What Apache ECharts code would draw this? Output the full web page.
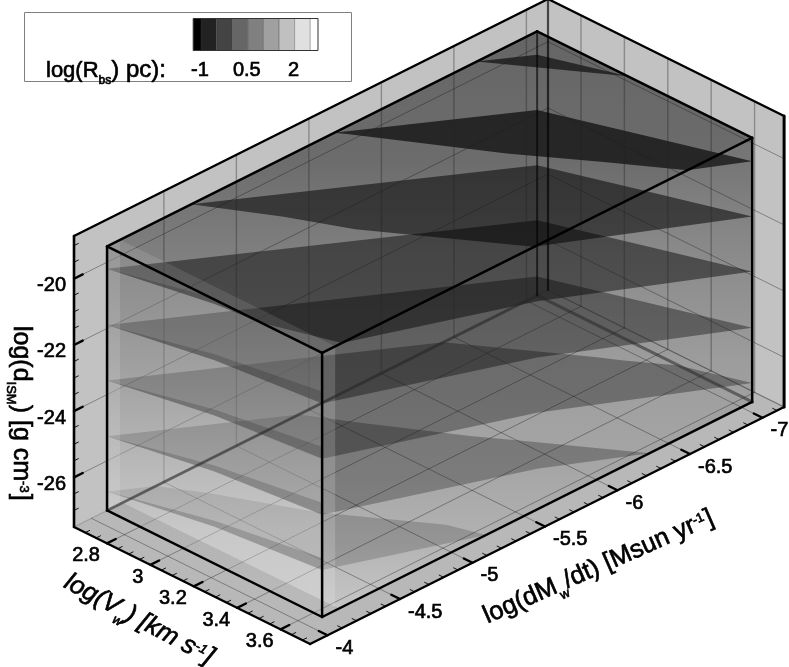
<!DOCTYPE html>
<html><head><meta charset="utf-8">
<style>html,body{margin:0;padding:0;background:#fff}#c{width:789px;height:667px}</style>
<script src="https://cdn.jsdelivr.net/npm/echarts@6/dist/echarts.min.js"></script>
</head><body><div id="c"></div>
<script>
// ---- axis ticks
const vwTicks=[2.8,3,3.2,3.4,3.6];
const vwLabels=['2.8','3','3.2','3.4','3.6'];
const mdotTicks=[-4,-4.5,-5,-5.5,-6,-6.5,-7];
const mdotLabels=['-4','-4.5','-5','-5.5','-6','-6.5','-7'];
const rhoTicks=[-20,-22,-24,-26];
const rhoLabels=['-20','-22','-24','-26'];
// ---- colour legend
const legendLevels=[-1.25,-1,-0.5,0,0.5,1,1.5,2,2.5,2.75];
const legendColors=['#000000','#222222','#444444','#666666','#808080','#a0a0a0','#c0c0c0','#e0e0e0','#ffffff'];
const legendTickValues=[-1,0.5,2];
const legendTickLabels=['-1','0.5','2'];
// ---- log(d_ISM) of each iso-surface; rows Vw low/mid/high, columns Mdot high/mid/low
const surface0=[[-15.20,-17.71,-20.23],[-14.65,-16.99,-19.39],[-14.35,-16.21,-18.56]];
const surface1=[[-16.87,-19.38,-21.90],[-16.32,-18.66,-21.06],[-16.02,-17.88,-20.23]];
const surface2=[[-18.54,-21.05,-23.57],[-17.99,-20.33,-22.73],[-17.69,-19.55,-21.90]];
const surface3=[[-20.20,-22.71,-25.23],[-19.65,-21.99,-24.39],[-19.35,-21.21,-23.56]];
const surface4=[[-21.90,-24.41,-26.93],[-21.35,-23.69,-26.09],[-21.05,-22.91,-25.26]];
const surface5=[[-23.57,-26.08,-28.60],[-23.02,-25.36,-27.76],[-22.72,-24.58,-26.93]];
const surface6=[[-25.26,-27.77,-30.29],[-24.71,-27.05,-29.45],[-24.41,-26.27,-28.62]];
const surface7=[[-26.93,-29.44,-31.96],[-26.38,-28.72,-31.12],[-26.08,-27.94,-30.29]];
const surfaces=[surface0,surface1,surface2,surface3,surface4,surface5,surface6,surface7];
const surfaceShade=[0.60,0.64,0.52,0.45,0.37,0.31,0.26,0.17];
const fringeRise=[0,0.18,0.36];
// ---- box limits
const wall={v0:2.648,v1:3.736,m0:-3.88,m1:-7.149,r0:-27.5,r1:-18.71};
const box={v0:2.648,v1:3.639,m0:-4.108,m1:-7.074,r0:-27.5,r1:-19.52};
const slab=0.09;

function project(v,m,r){
  const dv=v-wall.v0, dm=wall.m0-m, dr=r-wall.r0;
  return [74+dv*217+dm*145, 527+dv*107.5-dm*72.5-dr*33.1];
}
function clipRho(tri,limit,keepBelow){
  const out=[];const inside=p=>keepBelow?p[2]<=limit:p[2]>=limit;
  for(let i=0;i<tri.length;i++){
    const a=tri[i],b=tri[(i+1)%tri.length];
    const ia=inside(a),ib=inside(b);
    if(ia)out.push(a);
    if(ia!==ib){const t=(limit-a[2])/(b[2]-a[2]);out.push([a[0]+t*(b[0]-a[0]),a[1]+t*(b[1]-a[1]),limit]);}
  }
  return out;
}
function pathOf(polys,api){
  let d='';
  polys.forEach(poly=>{
    if(poly.length<3)return;
    let pts=poly.map(p=>api.coord(project(p[0],p[1],p[2])));
    let area=0;pts.forEach((p,i)=>{const q=pts[(i+1)%pts.length];area+=p[0]*q[1]-q[0]*p[1];});
    if(area<0)pts=pts.slice().reverse();
    d+='M'+pts.map(p=>p[0].toFixed(2)+' '+p[1].toFixed(2)).join('L')+'Z';
  });
  return d;
}
function clipAll(polys){
  return polys.map(t=>clipRho(clipRho(t,box.r1,true),box.r0,false)).filter(t=>t.length>=3);
}
function surfacePolys(g){
  const vs=[box.v0,(box.v0+box.v1)/2,box.v1], ms=[box.m0,(box.m0+box.m1)/2,box.m1];
  const tris=[];
  for(let i=0;i<2;i++)for(let j=0;j<2;j++){
    const a=[vs[i],ms[j],g[i][j]],b=[vs[i+1],ms[j],g[i+1][j]],c=[vs[i+1],ms[j+1],g[i+1][j+1]],d=[vs[i],ms[j+1],g[i][j+1]];
    tris.push([a,b,c],[a,c,d]);
  }
  return clipAll(tris);
}
function fringePolys(g){
  const vs=[box.v0,(box.v0+box.v1)/2,box.v1],m=box.m0,out=[];
  for(let i=0;i<2;i++){
    out.push([[vs[i],m,g[i][0]],[vs[i+1],m,g[i+1][0]],[vs[i+1],m,g[i+1][0]+fringeRise[i+1]],[vs[i],m,g[i][0]+fringeRise[i]]]);
  }
  return clipAll(out);
}
const FONT='"Liberation Sans"';
const ctx=document.createElement('canvas').getContext('2d');
function txt(api,s,x,y,size,align,base,rot,italic){
  const c=api.coord([x,y]);
  return {type:'text',x:c[0],y:c[1],rotation:rot||0,silent:true,
    style:{text:s,x:0,y:0,fill:'#000',stroke:'#000',lineWidth:0.65,textAlign:align||'left',textVerticalAlign:base||'middle',
    font:(italic?'italic ':'')+size+'px '+FONT}};
}
function runText(api,pieces,x,y,rot,italic){
  const cos=Math.cos(rot),sin=Math.sin(rot),out=[];let s=0;
  pieces.forEach(p=>{
    ctx.font=(italic?'italic ':'')+p[1]+'px '+FONT;
    const w=ctx.measureText(p[0]).width;
    const px=x+s*cos-p[2]*sin, py=y-s*sin-p[2]*cos;
    out.push(txt(api,p[0],px,py,p[1],'left','bottom',rot,italic));
    s+=w+(p[3]||0);
  });
  return out;
}
function line(api,a,b,w,col){
  const p=api.coord(project(a[0],a[1],a[2])),q=api.coord(project(b[0],b[1],b[2]));
  return {type:'line',silent:true,shape:{x1:p[0],y1:p[1],x2:q[0],y2:q[1]},style:{stroke:col,lineWidth:w,lineCap:'round'}};
}
function quad(api,pts,fill,stroke,sw){
  return {type:'polygon',silent:true,shape:{points:pts.map(p=>api.coord(project(p[0],p[1],p[2])))},style:{fill:fill,stroke:stroke||null,lineWidth:sw||0}};
}
function custom(name,render,n){
  return {type:'custom',name:name,coordinateSystem:'cartesian2d',clip:false,silent:true,animation:false,
    data:Array.from({length:n||1},(_,i)=>[i,i]),encode:{x:0,y:1},renderItem:render};
}
const W=wall,B=box;
const baseStops=[[0,'#6e6e6e'],[0.22,'#767676'],[0.36,'#888888'],[0.46,'#929292'],[0.56,'#9c9c9c'],[0.63,'#a0a0a0'],[0.75,'#a6a6a6'],[0.85,'#b0b0b0'],[1,'#c8c8c8']];
const nearStops=[[0,'#6e6e6e'],[0.22,'#767676'],[0.36,'#888888'],[0.46,'#929292'],[0.56,'#a2a2a2'],[0.63,'#b5b5b5'],[0.75,'#dadada'],[0.85,'#efefef'],[1,'#dddddd']];
function faceFill(api,stopsIn,alpha){
  const y0=api.coord(project(B.v0,B.m1,B.r1))[1], y1=api.coord(project(B.v1,B.m0,B.r0))[1];
  const stops=stopsIn.map(s=>{const n=parseInt(s[1].slice(1,3),16);return {offset:s[0],color:'rgba('+n+','+n+','+n+','+alpha+')'};});
  return new echarts.graphic.LinearGradient(0,y0,0,y1,stops,true);
}

const series=[
 custom('walls',(p,api)=>({type:'group',children:[
   quad(api,[[W.v0,W.m0,W.r0],[W.v0,W.m1,W.r0],[W.v0,W.m1,W.r1],[W.v0,W.m0,W.r1]],'#c2c2c2'),
   quad(api,[[W.v0,W.m1,W.r0],[W.v1,W.m1,W.r0],[W.v1,W.m1,W.r1],[W.v0,W.m1,W.r1]],'#c2c2c2'),
   quad(api,[[W.v0,W.m0,W.r0],[W.v1,W.m0,W.r0],[W.v1,W.m1,W.r0],[W.v0,W.m1,W.r0]],'#b8b8b8')
 ]})),
 custom('base',(p,api)=>({type:'polygon',silent:true,
   shape:{points:[[B.v0,B.m0,B.r0],[B.v0,B.m0,B.r1],[B.v0,B.m1,B.r1],[B.v1,B.m1,B.r1],[B.v1,B.m1,B.r0],[B.v1,B.m0,B.r0]].map(q=>api.coord(project(q[0],q[1],q[2])))},
   style:{fill:faceFill(api,baseStops,1)}})),
 custom('surfaces',(p,api)=>{
   const i=p.dataIndex;
   return {type:'path',silent:true,shape:{pathData:pathOf(surfacePolys(surfaces[i]),api)},style:{fill:'rgba(0,0,0,'+surfaceShade[i]+')'}};
 },surfaces.length),
 custom('grid',(p,api)=>{
   const c=[],thin='rgba(30,30,30,0.5)',wide='rgba(40,40,40,0.36)';
   rhoTicks.forEach(r=>{c.push(line(api,[W.v0,W.m0,r],[W.v0,W.m1,r],0.8,thin),line(api,[W.v0,W.m1,r],[W.v1,W.m1,r],0.8,thin));});
   mdotTicks.forEach(m=>{c.push(line(api,[W.v0,m,W.r0],[W.v1,m,W.r0],0.8,thin));
     if(m<-4)c.push(line(api,[W.v0,m,W.r0],[W.v0,m,W.r1],1.4,wide));});
   vwTicks.forEach(v=>{c.push(line(api,[v,W.m0,W.r0],[v,W.m1,W.r0],0.8,thin),line(api,[v,W.m1,W.r0],[v,W.m1,W.r1],1.4,wide));});
   return {type:'group',children:c};
 }),
 custom('near face',(p,api)=>quad(api,[[B.v0,B.m0,B.r0],[B.v1,B.m0,B.r0],[B.v1,B.m0,B.r1],[B.v0,B.m0,B.r1]],faceFill(api,nearStops,0.38))),
 custom('fringes',(p,api)=>{
   const i=p.dataIndex;
   return {type:'path',silent:true,shape:{pathData:pathOf(fringePolys(surfaces[i]),api)},style:{fill:'rgba(0,0,0,0.16)'}};
 },surfaces.length),
 custom('slabs',(p,api)=>({type:'group',children:[
   quad(api,[[B.v0,B.m0,B.r0],[B.v0,B.m0-slab,B.r0],[B.v0,B.m0-slab,B.r1],[B.v0,B.m0,B.r1]],'rgba(255,255,255,0.12)'),
   quad(api,[[B.v1,B.m0,B.r0],[B.v1,B.m0-slab,B.r0],[B.v1,B.m0-slab,B.r1],[B.v1,B.m0,B.r1]],'rgba(255,255,255,0.16)')
 ]})),
 custom('top',(p,api)=>({type:'group',children:[
   quad(api,[[B.v0,B.m0,B.r1],[B.v1,B.m0,B.r1],[B.v1,B.m1,B.r1],[B.v0,B.m1,B.r1]],'rgba(0,0,0,0.08)'),
   quad(api,[[B.v0,B.m0,B.r1],[B.v1,B.m0,B.r1],[B.v1,B.m0-slab,B.r1],[B.v0,B.m0-slab,B.r1]],'rgba(255,255,255,0.10)'),
   quad(api,[[B.v0,B.m0,B.r0],[B.v1,B.m0,B.r0],[B.v1,B.m0-slab*1.3,B.r0],[B.v0,B.m0-slab*1.2,B.r0]],'rgba(0,0,0,0.10)')
 ]})),
 custom('frame',(p,api)=>{
   const c=[],k='#000',g='rgba(40,40,40,0.55)';
   c.push(line(api,[B.v0,B.m0,B.r0],[B.v0,B.m1,B.r0],3,g),line(api,[B.v0,B.m1,B.r0],[B.v1,B.m1,B.r0],3,g));
   c.push(line(api,[W.v0,W.m1,W.r0],[W.v1,W.m1,W.r0],1.2,g));
   c.push(line(api,[W.v0,W.m0,W.r0],[W.v0,W.m1,W.r0],1.2,'rgba(40,40,40,0.25)'));
   c.push(line(api,[B.v0,B.m1,B.r0],[B.v0,B.m1,B.r1],2,'rgba(0,0,0,0.6)'));
   c.push(line(api,[W.v0,W.m1,W.r0],[W.v0,W.m1,W.r1],2.2,'rgba(0,0,0,0.65)'));
   c.push(line(api,[W.v0,W.m0,W.r1],[W.v0,W.m1,W.r1],2.4,k),line(api,[W.v0,W.m1,W.r1],[W.v1,W.m1,W.r1],2.4,k));
   c.push(line(api,[W.v1,W.m1,W.r1],[W.v1,W.m1,W.r0],3,k),line(api,[W.v0,W.m0,W.r1],[W.v0,W.m0,W.r0],2.6,k));
   c.push(line(api,[W.v0,W.m0,W.r0],[W.v1,W.m0,W.r0],2.4,k),line(api,[W.v1,W.m0,W.r0],[W.v1,W.m1,W.r0],2.4,k));
   [[[B.v0,B.m0,B.r1],[B.v1,B.m0,B.r1]],[[B.v1,B.m0,B.r1],[B.v1,B.m1,B.r1]],[[B.v1,B.m1,B.r1],[B.v0,B.m1,B.r1]],[[B.v0,B.m1,B.r1],[B.v0,B.m0,B.r1]],
    [[B.v0,B.m0,B.r0],[B.v1,B.m0,B.r0]],[[B.v1,B.m0,B.r0],[B.v1,B.m1,B.r0]],
    [[B.v0,B.m0,B.r0],[B.v0,B.m0,B.r1]],[[B.v1,B.m0,B.r0],[B.v1,B.m0,B.r1]],[[B.v1,B.m1,B.r0],[B.v1,B.m1,B.r1]]
   ].forEach(e=>c.push(line(api,e[0],e[1],2.5,k)));
   const near=(a,b)=>a.some(t=>Math.abs(t-b)<1e-6);
   for(let r=-27;r<W.r1;r+=0.5){const maj=near(rhoTicks,r);c.push(line(api,[W.v0,W.m0,r],[W.v0,W.m0-(maj?0.06:0.03),r],maj?2.4:0.9,k));}
   for(let v=2.7;v<3.71;v+=0.05){const maj=near(vwTicks,+v.toFixed(2));c.push(line(api,[v,W.m0,W.r0],[v,W.m0-(maj?0.06:0.03),W.r0],maj?2.4:0.9,k));}
   for(let m=-4;m>W.m1;m-=0.1){const maj=near(mdotTicks,+m.toFixed(1));c.push(line(api,[W.v1,m,W.r0],[W.v1-(maj?0.04:0.02),m,W.r0],maj?2.4:0.9,k));}
   return {type:'group',children:c};
 }),
 custom('tick labels',(p,api)=>{
   const c=[];
   rhoTicks.forEach((r,i)=>{const q=project(W.v0,W.m0,r);c.push(txt(api,rhoLabels[i],q[0]-8,q[1]+7,20,'right'));});
   vwTicks.forEach((v,i)=>{const q=project(v,W.m0,W.r0);c.push(txt(api,vwLabels[i],q[0]-7,q[1]+12.5,20,'right'));});
   mdotTicks.forEach((m,i)=>{const q=project(W.v1,m,W.r0);c.push(txt(api,mdotLabels[i],q[0]+8,q[1]+13,20,'left'));});
   return {type:'group',children:c};
 }),
 custom('titles',(p,api)=>{
   const c=[].concat(
     runText(api,[['log(d',25,0],['ISM',13,-4],[') [g cm',25,0],['-3',13,9,1],[']',25,0]],8,326,-Math.PI/2),
     runText(api,[['log(V',25.5,0],['w',13,-5],[') [km s',25.5,0],['-1',13,10,1],[']',25.5,0]],60,592,-0.49,true),
     runText(api,[['log(dM',25.5,0],['w',13,-5],['/dt) [Msun yr',25.5,0],['-1',13,10,1],[']',25.5,0]],490,629,0.415)
   );
   return {type:'group',children:c};
 }),
 custom('legend',(p,api)=>{
   const cx=x=>201+(x+1)*31.2;
   const rect=(x0,y0,x1,y1,fill,stroke)=>{const a=api.coord([x0,y0]),b=api.coord([x1,y1]);
     return {type:'rect',silent:true,shape:{x:a[0],y:a[1],width:b[0]-a[0],height:b[1]-a[1]},style:{fill:fill,stroke:stroke||null,lineWidth:stroke?1:0}};};
   const c=[rect(24.5,12.5,351.5,81.5,'#fff','#808080')];
   legendColors.forEach((col,i)=>c.push(rect(cx(legendLevels[i]),18.5,cx(legendLevels[i+1]),50.5,col)));
   legendLevels.slice(1,-1).forEach(l=>{const a=api.coord([cx(l),18.5]),b=api.coord([cx(l),50.5]);
     c.push({type:'line',silent:true,shape:{x1:a[0],y1:a[1],x2:b[0],y2:b[1]},style:{stroke:'rgba(50,50,50,0.4)',lineWidth:1}});});
   c.push(rect(cx(-1.25),18.5,cx(2.75),50.5,null,'#333333'));
   legendTickValues.forEach((v,i)=>c.push(txt(api,legendTickLabels[i],cx(v)-1,70.5,20,'center')));
   return {type:'group',children:c.concat(runText(api,[['log(R',22,0],['bs',12,-5],[') pc):',24,0]],46,82,0))};
 })
];
const chart=echarts.init(document.getElementById('c'),null,{renderer:'canvas'});
chart.setOption({animation:false,backgroundColor:'#fff',
  grid:{left:0,right:0,top:0,bottom:0},
  xAxis:{type:'value',min:0,max:789,show:false},
  yAxis:{type:'value',min:0,max:667,inverse:true,show:false},
  series:series});
</script></body></html>
